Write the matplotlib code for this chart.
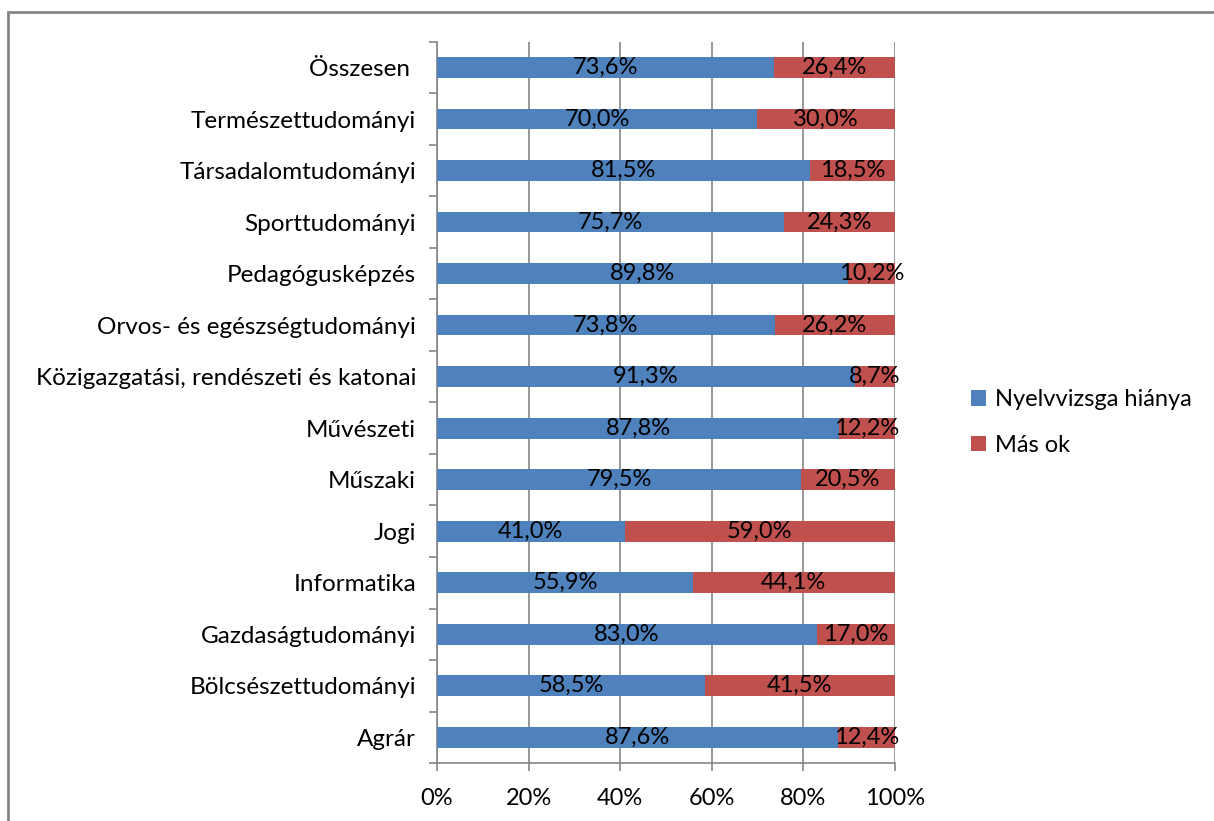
import matplotlib.pyplot as plt
from matplotlib.patches import Rectangle

categories = ["Agrár", "Bölcsészettudományi", "Gazdaságtudományi", "Informatika",
              "Jogi", "Műszaki", "Művészeti", "Közigazgatási, rendészeti és katonai",
              "Orvos- és egészségtudományi", "Pedagógusképzés", "Sporttudományi",
              "Társadalomtudományi", "Természettudományi", "Összesen "]
nyelvvizsga = [87.6, 58.5, 83.0, 55.9, 41.0, 79.5, 87.8, 91.3, 73.8, 89.8, 75.7, 81.5, 70.0, 73.6]
mas_ok = [12.4, 41.5, 17.0, 44.1, 59.0, 20.5, 12.2, 8.7, 26.2, 10.2, 24.3, 18.5, 30.0, 26.4]
series_names = ["Nyelvvizsga hiánya", "Más ok"]

plt.rcParams['font.family'] = ['Lato', 'DejaVu Sans']
blue = "#4F81BD"
red = "#C0504D"
grid = "#868686"

fig = plt.figure(figsize=(12.14, 8.21), dpi=100)
ax = fig.add_axes([0.36, 0.0706, 0.377, 0.8784])

y = range(len(categories))
b1 = ax.barh(y, nyelvvizsga, height=0.4, color=blue, label=series_names[0], zorder=3)
b2 = ax.barh(y, mas_ok, left=nyelvvizsga, height=0.4, color=red, label=series_names[1], zorder=3)

# value labels in the middle of each segment, decimal comma
for i in y:
    ax.text(nyelvvizsga[i] / 2, i, f"{nyelvvizsga[i]:.1f}%".replace(".", ","),
            ha="center", va="center", fontsize=17, zorder=4)
    ax.text(nyelvvizsga[i] + mas_ok[i] / 2, i, f"{mas_ok[i]:.1f}%".replace(".", ","),
            ha="center", va="center", fontsize=17, zorder=4)

ax.set_xlim(0, 100)
ax.set_ylim(-0.5, len(categories) - 0.5)
ax.set_xticks([0, 20, 40, 60, 80, 100])
ax.set_xticklabels(["0%", "20%", "40%", "60%", "80%", "100%"], fontsize=17)
ax.set_yticks(list(y))
ax.set_yticklabels(categories, fontsize=17.5)
ax.set_yticks([i - 0.5 for i in range(len(categories) + 1)], minor=True)
ax.tick_params(axis="y", which="major", length=0, pad=15)
ax.tick_params(axis="y", which="minor", length=6, color=grid, width=1.2)
ax.tick_params(axis="x", length=6, color=grid, width=1.2, pad=12)
ax.xaxis.grid(True, color=grid, linewidth=1.2, zorder=0)
for s in ["top", "right"]:
    ax.spines[s].set_visible(False)
for s in ["left", "bottom"]:
    ax.spines[s].set_color(grid)
    ax.spines[s].set_linewidth(1.2)

fig.legend(handles=[b1, b2], loc="upper left", bbox_to_anchor=(0.782, 0.552),
           frameon=False, fontsize=17, handlelength=0.65, handleheight=0.65,
           handletextpad=0.4, labelspacing=1.05)

# outer chart border (only left/top visible in the crop)
fig.patches.append(Rectangle((8 / 1214, -0.1), 1.2, 1 - 12 / 821 + 0.1,
                             transform=fig.transFigure, fill=False,
                             edgecolor=grid, linewidth=2))

fig.savefig("out.png")
